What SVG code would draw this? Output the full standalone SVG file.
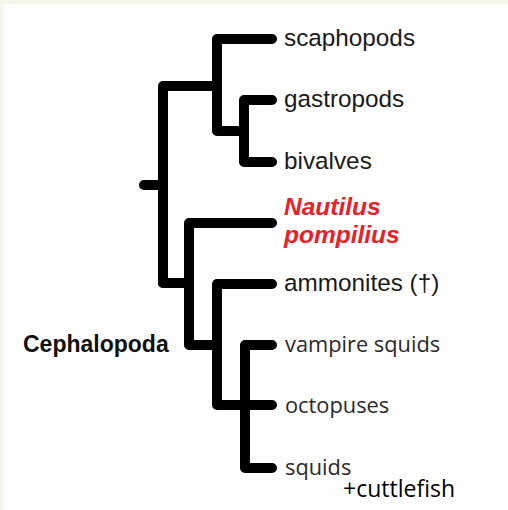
<svg xmlns="http://www.w3.org/2000/svg" width="508" height="510" viewBox="0 0 508 510">
<style>
.br{fill:none;stroke:#000;stroke-width:10;stroke-linecap:round;stroke-linejoin:round}
.a{font-family:"Liberation Sans",Arial,sans-serif;font-size:24.3px;fill:#1a1a1a}
.o{font-family:"Open Sans","Noto Sans",sans-serif;font-size:21.8px;fill:#2a2a2a}
.n{font-family:"Liberation Sans",Arial,sans-serif;font-size:24.5px;font-weight:bold;font-style:italic;fill:#e8202a}
.c{font-family:"Liberation Sans",Arial,sans-serif;font-size:23px;font-weight:bold;fill:#111}
</style>
<rect width="508" height="510" fill="#f2f7ea"/>
<rect x="3" y="4" width="505" height="506" fill="#fff"/>
<g id="connectors">
<path class="br" d="M144 185H163"/>
<path class="br" d="M163 283V86H217"/>
<path class="br" d="M272 39H217V131H244"/>
<path class="br" d="M272 100H244V162H272"/>
<path class="br" d="M163 283H189"/>
<path class="br" d="M272 223H189V345H217"/>
<path class="br" d="M272 284H217V405H272"/>
<path class="br" d="M272 345H245V468H272"/>
</g>
<g id="scaphopods"><text class="a" x="284" y="46">scaphopods</text></g>
<g id="gastropods"><text class="a" x="284" y="107">gastropods</text></g>
<g id="bivalves"><text class="a" x="284" y="169">bivalves</text></g>
<g id="nautilus"><text class="n" x="284" y="215">Nautilus</text><text class="n" x="284" y="243">pompilius</text></g>
<g id="ammonites"><text class="a" x="284" y="291">ammonites (†)</text></g>
<g id="vampire"><text class="o" x="285" y="352">vampire squids</text></g>
<g id="octopuses"><text class="o" x="285" y="413">octopuses</text></g>
<g id="squids"><text class="o" x="285" y="475">squids</text><text class="o" x="343" y="497" style="fill:#000;font-size:23px">+cuttlefish</text></g>
<g id="cephalopoda"><text class="c" x="23" y="352">Cephalopoda</text></g>
</svg>
